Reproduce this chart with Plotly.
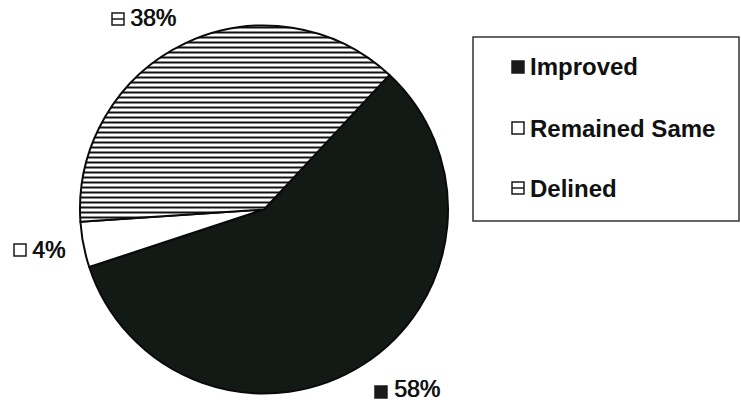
import plotly.graph_objects as go

# Survey outcome shares (percent)
categories = ["Improved", "Remained Same", "Delined"]
values = [58, 4, 38]
slice_colors = ["#131a16", "#ffffff", "#ffffff"]
slice_patterns = ["", "", "-"]

W, H = 741, 402


def px(x):
    return x / W


def py(y):
    return 1 - y / H


fig = go.Figure()

fig.add_trace(go.Pie(
    labels=categories,
    values=values,
    sort=False,
    direction="clockwise",
    rotation=43,
    textinfo="none",
    hoverinfo="label+percent",
    showlegend=False,
    marker=dict(
        colors=slice_colors,
        line=dict(color="#0a0a0a", width=2),
        pattern=dict(shape=slice_patterns, size=5, solidity=0.4,
                     fgcolor="#111111", bgcolor="#ffffff"),
    ),
    domain=dict(x=[px(80), px(448)], y=[py(394), py(25)]),
))

text_font = dict(family="Liberation Sans, Arial, sans-serif", size=23, color="#111111",
                 shadow="0.7px 0px 0px #111111")
legend_font = dict(family="Liberation Sans, Arial, sans-serif", size=24, color="#111111")

shapes = []
annotations = []


def glyph(kind, x0, y0, size=12):
    """Small square key glyph: filled, empty, or boxed with a middle rule."""
    x1, y1 = x0 + size, y0 + size
    fill = "#1a1a1a" if kind == "filled" else "#ffffff"
    shapes.append(dict(type="rect", xref="paper", yref="paper",
                       x0=px(x0), x1=px(x1), y0=py(y1), y1=py(y0),
                       fillcolor=fill, line=dict(color="#1a1a1a", width=1.5)))
    if kind == "ruled":
        ym = (y0 + y1) / 2
        shapes.append(dict(type="line", xref="paper", yref="paper",
                           x0=px(x0), x1=px(x1), y0=py(ym), y1=py(ym),
                           line=dict(color="#1a1a1a", width=1.5)))


glyph_kinds = {"Improved": "filled", "Remained Same": "empty", "Delined": "ruled"}

# Percentage callouts around the pie
callouts = {
    "Delined": (112, 13, 130, 18),
    "Remained Same": (14, 244, 32, 250),
    "Improved": (375, 386, 394, 389),
}
for cat, val in zip(categories, values):
    gx, gy, tx, ty = callouts[cat]
    glyph(glyph_kinds[cat], gx, gy)
    annotations.append(dict(xref="paper", yref="paper", x=px(tx), y=py(ty),
                            xanchor="left", yanchor="middle", showarrow=False,
                            borderpad=0, borderwidth=0,
                            text=f"{val}%", font=text_font))

# Legend box with key glyphs and bold labels
shapes.append(dict(type="rect", xref="paper", yref="paper",
                   x0=px(473), x1=px(739), y0=py(221), y1=py(37),
                   fillcolor="rgba(0,0,0,0)", line=dict(color="#333333", width=1.5)))
legend_rows = [67, 128, 188]
for cat, yc in zip(categories, legend_rows):
    glyph(glyph_kinds[cat], 512, yc - 6)
    annotations.append(dict(xref="paper", yref="paper", x=px(528), y=py(yc),
                            xanchor="left", yanchor="middle", showarrow=False,
                            text=f"<b>{cat}</b>", font=legend_font))

fig.update_layout(
    width=W, height=H,
    margin=dict(l=0, r=0, t=0, b=0),
    paper_bgcolor="white",
    plot_bgcolor="white",
    shapes=shapes,
    annotations=annotations,
)

fig.write_html("out.html")
